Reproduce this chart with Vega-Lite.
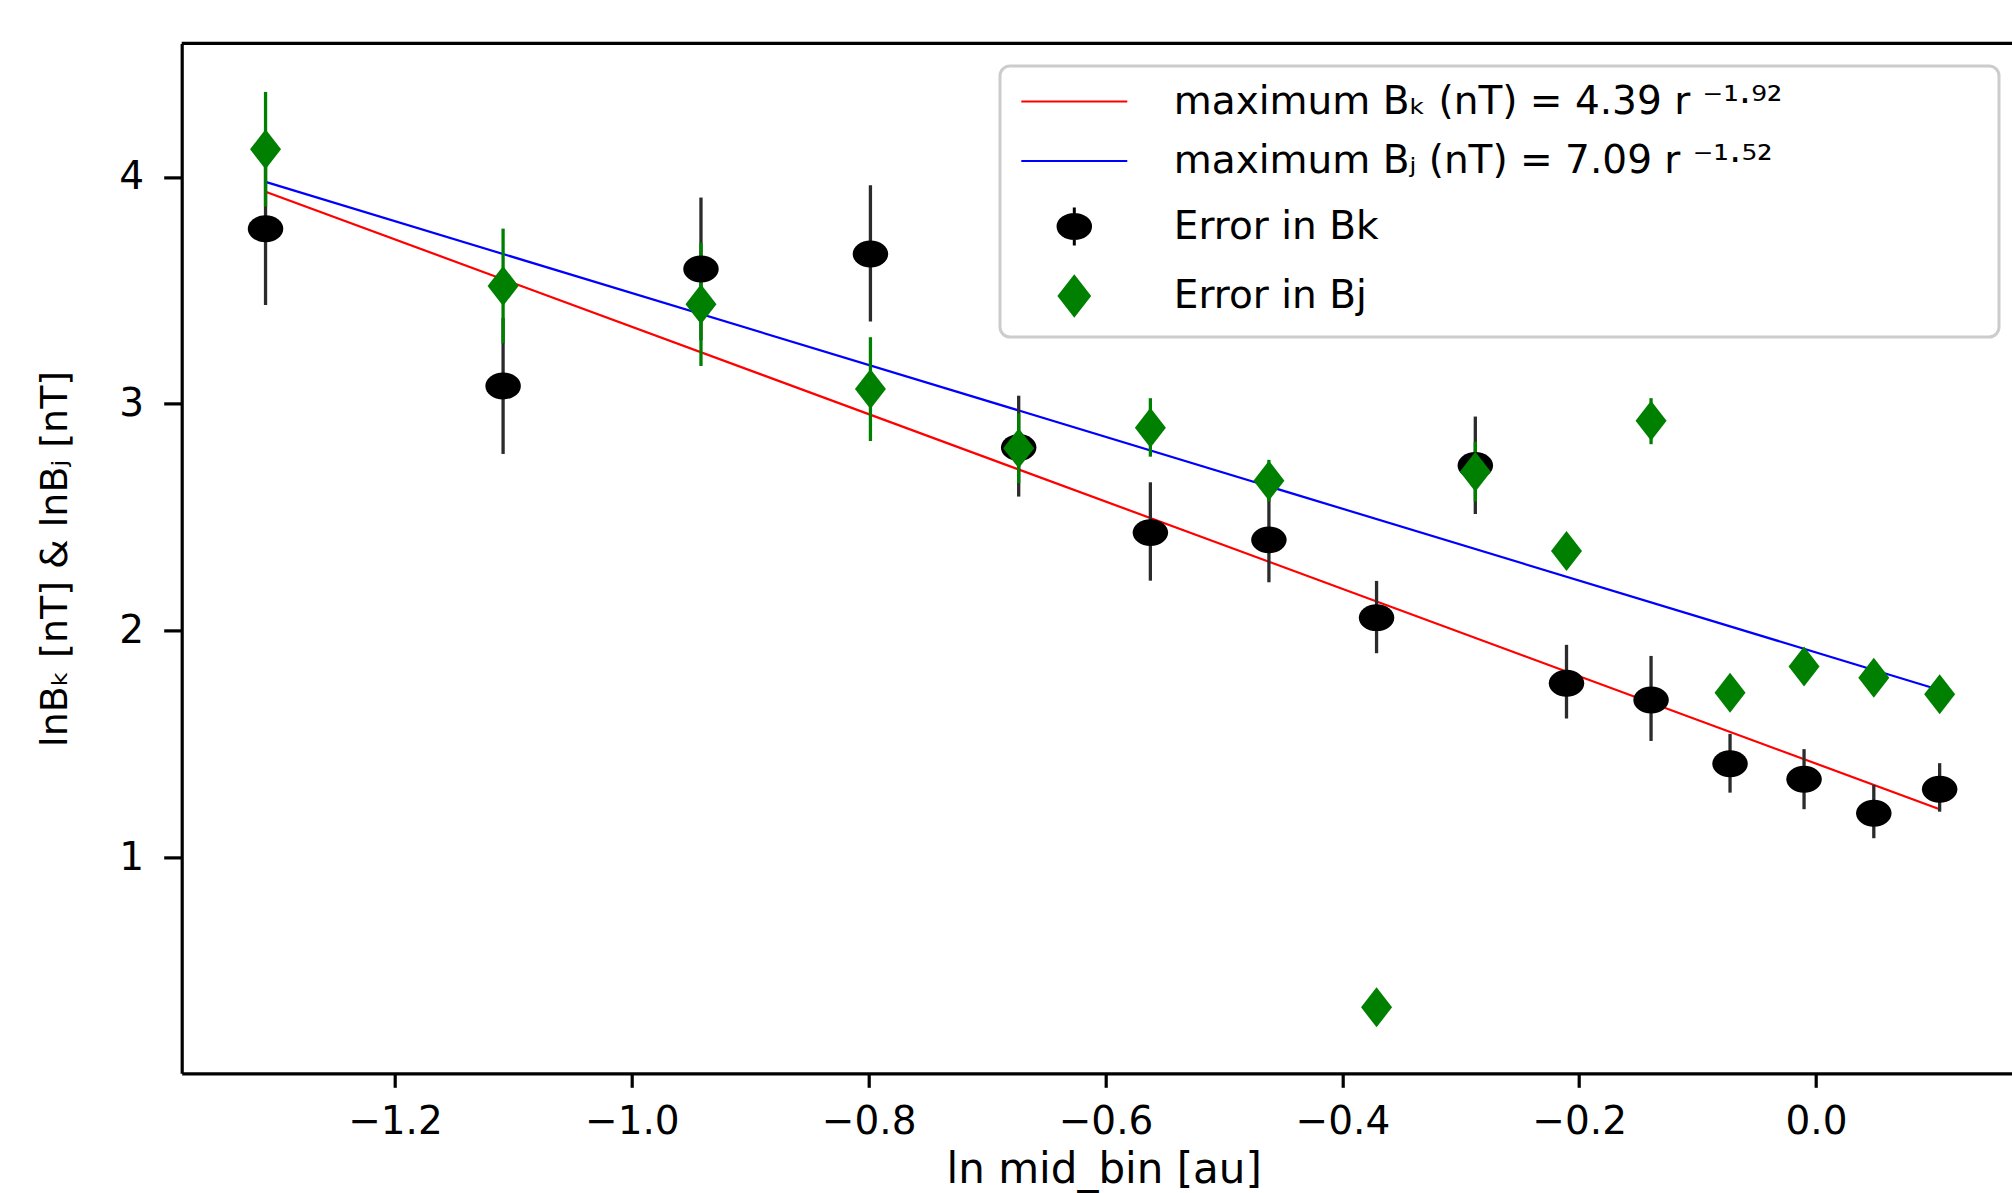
{
  "$schema": "https://vega.github.io/schema/vega-lite/v6.json",
  "width": 1830.3,
  "height": 1029.9,
  "autosize": {"type": "none"},
  "padding": {"left": 181.7, "top": 43.4, "right": 0, "bottom": 119.7},
  "background": "white",
  "config": {
    "view": {"stroke": null},
    "font": "DejaVu Sans",
    "axisX": {"format": ".1f", "grid": false,
      "domainColor": "black", "domainWidth": 3.2, "tickColor": "black", "tickWidth": 3.2, "tickSize": 14,
      "labelFont": "DejaVu Sans", "labelFontSize": 39, "labelColor": "black", "labelPadding": 15, "labelFlush": false, "labelOverlap": false,
      "titleFont": "DejaVu Sans", "titleFontSize": 42, "titleFontWeight": "normal", "titleColor": "black",
      "titleX": 922, "titleY": 108.7, "titleBaseline": "alphabetic"},
    "axisY": {"format": "d", "grid": false,
      "domainColor": "black", "domainWidth": 3.2, "tickColor": "black", "tickWidth": 3.2, "tickSize": 18,
      "labelFont": "DejaVu Sans", "labelFontSize": 39, "labelColor": "black", "labelPadding": 20, "labelFlush": false, "labelOverlap": false,
      "titleFont": "DejaVu Sans", "titleFontSize": 38, "titleFontWeight": "normal", "titleColor": "black",
      "titleX": -115.7, "titleBaseline": "alphabetic"}
  },
  "datasets": {
    "fits": [
      {"x": -1.3093, "y": 3.935, "series": "k_fit"},
      {"x": 0.1044, "y": 1.211, "series": "k_fit"},
      {"x": -1.3093, "y": 3.978, "series": "j_fit"},
      {"x": 0.1044, "y": 1.737, "series": "j_fit"}
    ],
    "bk": [
      {"x": -1.3093, "y": 3.771, "lo": 3.435, "hi": 4.106, "series": "k_err"},
      {"x": -1.1087, "y": 3.078, "lo": 2.778, "hi": 3.378, "series": "k_err"},
      {"x": -0.9416, "y": 3.594, "lo": 3.279, "hi": 3.909, "series": "k_err"},
      {"x": -0.7985, "y": 3.660, "lo": 3.362, "hi": 3.963, "series": "k_err"},
      {"x": -0.6733, "y": 2.806, "lo": 2.590, "hi": 3.035, "series": "k_err"},
      {"x": -0.5621, "y": 2.431, "lo": 2.219, "hi": 2.653, "series": "k_err"},
      {"x": -0.4620, "y": 2.399, "lo": 2.212, "hi": 2.586, "series": "k_err"},
      {"x": -0.3711, "y": 2.056, "lo": 1.899, "hi": 2.218, "series": "k_err"},
      {"x": -0.2877, "y": 2.727, "lo": 2.513, "hi": 2.943, "series": "k_err"},
      {"x": -0.2107, "y": 1.767, "lo": 1.611, "hi": 1.936, "series": "k_err"},
      {"x": -0.1393, "y": 1.693, "lo": 1.512, "hi": 1.887, "series": "k_err"},
      {"x": -0.0726, "y": 1.411, "lo": 1.284, "hi": 1.543, "series": "k_err"},
      {"x": -0.0101, "y": 1.343, "lo": 1.211, "hi": 1.476, "series": "k_err"},
      {"x": 0.0488, "y": 1.193, "lo": 1.083, "hi": 1.318, "series": "k_err"},
      {"x": 0.1044, "y": 1.299, "lo": 1.200, "hi": 1.414, "series": "k_err"}
    ],
    "bj": [
      {"x": -1.3093, "y": 4.122, "lo": 3.869, "hi": 4.375, "series": "j_err"},
      {"x": -1.1087, "y": 3.519, "lo": 3.266, "hi": 3.772, "series": "j_err"},
      {"x": -0.9416, "y": 3.438, "lo": 3.166, "hi": 3.710, "series": "j_err"},
      {"x": -0.7985, "y": 3.065, "lo": 2.835, "hi": 3.293, "series": "j_err"},
      {"x": -0.6733, "y": 2.803, "lo": 2.649, "hi": 2.957, "series": "j_err"},
      {"x": -0.5621, "y": 2.894, "lo": 2.766, "hi": 3.024, "series": "j_err"},
      {"x": -0.4620, "y": 2.660, "lo": 2.568, "hi": 2.752, "series": "j_err"},
      {"x": -0.3711, "y": 0.337, "lo": 0.290, "hi": 0.384, "series": "j_err"},
      {"x": -0.2877, "y": 2.700, "lo": 2.568, "hi": 2.832, "series": "j_err"},
      {"x": -0.2107, "y": 2.350, "lo": 2.300, "hi": 2.400, "series": "j_err"},
      {"x": -0.1393, "y": 2.924, "lo": 2.821, "hi": 3.024, "series": "j_err"},
      {"x": -0.0726, "y": 1.725, "lo": 1.670, "hi": 1.780, "series": "j_err"},
      {"x": -0.0101, "y": 1.840, "lo": 1.785, "hi": 1.895, "series": "j_err"},
      {"x": 0.0488, "y": 1.791, "lo": 1.736, "hi": 1.846, "series": "j_err"},
      {"x": 0.1044, "y": 1.718, "lo": 1.663, "hi": 1.773, "series": "j_err"}
    ],
    "frame": [{"ytop": 4.589}]
  },
  "layer": [
    {
      "data": {"name": "fits"},
      "mark": {"type": "line", "strokeWidth": 2.2},
      "encoding": {
        "x": {"field": "x", "type": "quantitative", "title": "ln mid_bin [au]",
          "scale": {"domain": [-1.3801, 0.1655], "nice": false, "zero": false},
          "axis": {"values": [-1.2, -1, -0.8, -0.6, -0.4, -0.2, 0]}},
        "y": {"field": "y", "type": "quantitative", "title": "lnBₖ [nT] & lnBⱼ [nT]",
          "scale": {"domain": [0.046, 4.589], "nice": false, "zero": false},
          "axis": {"values": [1, 2, 3, 4]}},
        "color": {"field": "series", "type": "nominal",
          "scale": {"domain": ["k_fit", "j_fit", "k_err", "j_err"], "range": ["#ff0000", "#0000ff", "#000000", "#008000"]},
          "legend": {
            "title": null, "orient": "none", "legendX": 818.3, "legendY": 22.6,
            "padding": 16, "rowPadding": 19.5, "symbolOffset": 38.8, "labelOffset": 80,
            "symbolSize": 2500, "symbolStrokeWidth": 2.5,
            "labelFont": "DejaVu Sans", "labelFontSize": 39, "labelColor": "black", "labelLimit": 0,
            "fillColor": "white", "strokeColor": "#cccccc", "cornerRadius": 10,
            "labelExpr": "datum.value === 'k_fit' ? 'maximum Bₖ (nT) = 4.39 r ⁻¹·⁹²\u2800\u2800\u2800\u2800\u2800\u2800\u2800' : datum.value === 'j_fit' ? 'maximum Bⱼ (nT) = 7.09 r ⁻¹·⁵²' : datum.value === 'k_err' ? 'Error in Bk' : 'Error in Bj'",
            "encode": {
              "legend": {"update": {"strokeWidth": {"value": 3}}},
              "symbols": {"update": {
                "shape": {"signal": "datum.value === 'k_fit' || datum.value === 'j_fit' ? 'M-2.12,0L2.12,0' : datum.value === 'k_err' ? 'M-0.65,0A0.65,0.48,0,1,0,0.65,0A0.65,0.48,0,1,0,-0.65,0ZM0,-0.76L0,0.76' : 'M-0.62,0L0,-0.8L0.62,0L0,0.8Z'"},
                "fill": {"signal": "datum.value === 'k_err' ? '#000000' : datum.value === 'j_err' ? '#008000' : 'transparent'"},
                "stroke": {"signal": "datum.value === 'k_fit' ? '#ff0000' : datum.value === 'j_fit' ? '#0000ff' : datum.value === 'k_err' ? '#000000' : 'transparent'"},
                "strokeWidth": {"signal": "datum.value === 'k_err' ? 3 : 2.2"},
                "opacity": {"value": 1}
              }}
            }
          }}
      }
    },
    {
      "data": {"name": "bk"},
      "mark": {"type": "rule", "color": "#2b2b2b", "strokeWidth": 3.3},
      "encoding": {
        "x": {"field": "x", "type": "quantitative", "title": "ln mid_bin [au]", "scale": {"domain": [-1.3801, 0.1655], "nice": false, "zero": false}, "axis": {"values": [-1.2, -1, -0.8, -0.6, -0.4, -0.2, 0]}},
        "y": {"field": "lo", "type": "quantitative", "title": "lnBₖ [nT] & lnBⱼ [nT]", "scale": {"domain": [0.046, 4.589], "nice": false, "zero": false}, "axis": {"values": [1, 2, 3, 4]}},
        "y2": {"field": "hi"}
      }
    },
    {
      "data": {"name": "bj"},
      "mark": {"type": "rule", "color": "#008000", "strokeWidth": 3.3},
      "encoding": {
        "x": {"field": "x", "type": "quantitative", "title": "ln mid_bin [au]", "scale": {"domain": [-1.3801, 0.1655], "nice": false, "zero": false}, "axis": {"values": [-1.2, -1, -0.8, -0.6, -0.4, -0.2, 0]}},
        "y": {"field": "lo", "type": "quantitative", "title": "lnBₖ [nT] & lnBⱼ [nT]", "scale": {"domain": [0.046, 4.589], "nice": false, "zero": false}, "axis": {"values": [1, 2, 3, 4]}},
        "y2": {"field": "hi"}
      }
    },
    {
      "data": {"name": "bk"},
      "mark": {"type": "point", "shape": "M-1,0A1,0.76,0,1,0,1,0A1,0.76,0,1,0,-1,0Z", "size": 1260, "filled": true, "opacity": 1, "strokeWidth": 0},
      "encoding": {
        "x": {"field": "x", "type": "quantitative", "title": "ln mid_bin [au]", "scale": {"domain": [-1.3801, 0.1655], "nice": false, "zero": false}, "axis": {"values": [-1.2, -1, -0.8, -0.6, -0.4, -0.2, 0]}},
        "y": {"field": "y", "type": "quantitative", "title": "lnBₖ [nT] & lnBⱼ [nT]", "scale": {"domain": [0.046, 4.589], "nice": false, "zero": false}, "axis": {"values": [1, 2, 3, 4]}},
        "color": {"field": "series", "type": "nominal", "scale": {"domain": ["k_fit", "j_fit", "k_err", "j_err"], "range": ["#ff0000", "#0000ff", "#000000", "#008000"]}}
      }
    },
    {
      "data": {"name": "bj"},
      "mark": {"type": "point", "shape": "M-0.775,0L0,-1L0.775,0L0,1Z", "size": 1600, "filled": true, "opacity": 1, "strokeWidth": 0},
      "encoding": {
        "x": {"field": "x", "type": "quantitative", "title": "ln mid_bin [au]", "scale": {"domain": [-1.3801, 0.1655], "nice": false, "zero": false}, "axis": {"values": [-1.2, -1, -0.8, -0.6, -0.4, -0.2, 0]}},
        "y": {"field": "y", "type": "quantitative", "title": "lnBₖ [nT] & lnBⱼ [nT]", "scale": {"domain": [0.046, 4.589], "nice": false, "zero": false}, "axis": {"values": [1, 2, 3, 4]}},
        "color": {"field": "series", "type": "nominal", "scale": {"domain": ["k_fit", "j_fit", "k_err", "j_err"], "range": ["#ff0000", "#0000ff", "#000000", "#008000"]}}
      }
    },
    {
      "data": {"name": "frame"},
      "mark": {"type": "rule", "color": "black", "strokeWidth": 3.2},
      "encoding": {
        "y": {"field": "ytop", "type": "quantitative", "title": "lnBₖ [nT] & lnBⱼ [nT]", "scale": {"domain": [0.046, 4.589], "nice": false, "zero": false}, "axis": {"values": [1, 2, 3, 4]}}
      }
    }
  ]
}
